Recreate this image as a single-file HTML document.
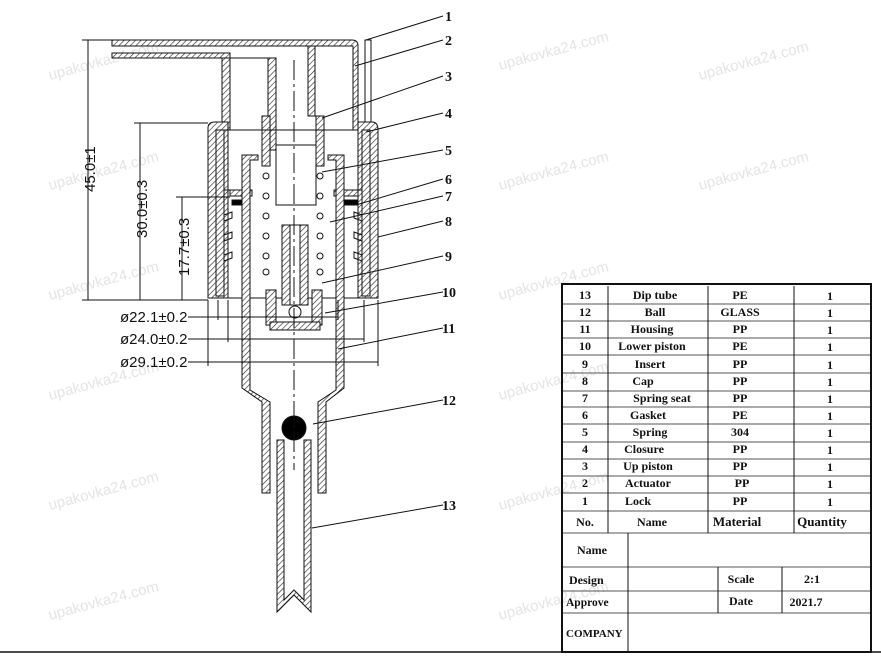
<!DOCTYPE html>
<html><head><meta charset="utf-8"><style>
html,body{margin:0;padding:0;background:#fff;}
svg{display:block;}
.tb{font-family:"Liberation Serif",serif;font-weight:bold;font-size:12px;}
</style></head><body>
<svg width="881" height="662" viewBox="0 0 881 662" xmlns="http://www.w3.org/2000/svg">
<defs>
<pattern id="h" width="4" height="4" patternUnits="userSpaceOnUse" patternTransform="rotate(45)">
<rect width="4" height="4" fill="#fff"/><line x1="0" y1="0" x2="0" y2="4" stroke="#222" stroke-width="1.2"/></pattern>
</defs>
<g fill="#e4e4e4" font-family="Liberation Sans,sans-serif" font-size="15">
<text transform="translate(50,80) rotate(-15)">upakovka24.com</text>
<text transform="translate(500,70) rotate(-15)">upakovka24.com</text>
<text transform="translate(700,80) rotate(-15)">upakovka24.com</text>
<text transform="translate(50,190) rotate(-15)">upakovka24.com</text>
<text transform="translate(500,190) rotate(-15)">upakovka24.com</text>
<text transform="translate(700,190) rotate(-15)">upakovka24.com</text>
<text transform="translate(50,300) rotate(-15)">upakovka24.com</text>
<text transform="translate(500,300) rotate(-15)">upakovka24.com</text>
<text transform="translate(50,400) rotate(-15)">upakovka24.com</text>
<text transform="translate(500,400) rotate(-15)">upakovka24.com</text>
<text transform="translate(50,510) rotate(-15)">upakovka24.com</text>
<text transform="translate(500,510) rotate(-15)">upakovka24.com</text>
<text transform="translate(50,620) rotate(-15)">upakovka24.com</text>
<text transform="translate(500,620) rotate(-15)">upakovka24.com</text>
</g>
<g stroke="#111" stroke-width="1" fill="none">
<path d="M112 40 H352 Q358 40 358 46 V130 H353 V46 H112 Z" fill="url(#h)"/>
<rect x="112" y="53" width="118" height="5" fill="url(#h)"/>
<rect x="222" y="58" width="8" height="72" fill="url(#h)"/>
<rect x="268" y="58" width="8" height="92" fill="url(#h)"/>
<line x1="230" y1="58" x2="268" y2="58"/>
<rect x="308" y="46" width="7" height="70" fill="url(#h)"/>
<rect x="365" y="40" width="6" height="82"/>
<rect x="262" y="116" width="8" height="50" fill="url(#h)"/>
<rect x="316" y="116" width="8" height="50" fill="url(#h)"/>
<rect x="276" y="145" width="40" height="60"/>
<path d="M208 128 Q208 122 215 122 H228 V298 H208 Z" fill="url(#h)"/>
<path d="M358 122 H372 Q378 122 378 130 V298 H358 Z" fill="url(#h)"/>
<rect x="216" y="130" width="8" height="166" fill="url(#h)"/>
<rect x="362" y="130" width="8" height="166" fill="url(#h)"/>
<line x1="208" y1="298" x2="378" y2="298"/>
<path d="M224 130 H358 M224 190 H250 M338 190 H362"/>
<rect x="230" y="190" width="22" height="6" fill="url(#h)"/>
<rect x="334" y="190" width="24" height="6" fill="url(#h)"/>
<rect x="232" y="200" width="18" height="5" fill="#000"/>
<rect x="338" y="200" width="20" height="5" fill="#000"/>
<path d="M224 215 l8 -3 v6 l-8 3 M224 235 l8 -3 v6 l-8 3 M224 255 l8 -3 v6 l-8 3 M362 215 l-8 -3 v6 l8 3 M362 235 l-8 -3 v6 l8 3 M362 255 l-8 -3 v6 l8 3"/>
<path d="M242 155 H258 V160 H250 V390 L270 402 V493 H262 V402 L242 388 Z" fill="url(#h)"/>
<path d="M344 155 H328 V160 H336 V390 L318 402 V493 H326 V402 L344 388 Z" fill="url(#h)"/>
<g fill="#fff">
<circle cx="266" cy="176" r="3"/><circle cx="266" cy="196" r="3"/><circle cx="266" cy="216" r="3"/><circle cx="266" cy="236" r="3"/><circle cx="266" cy="256" r="3"/><circle cx="266" cy="272" r="3"/>
<circle cx="320" cy="176" r="3"/><circle cx="320" cy="196" r="3"/><circle cx="320" cy="216" r="3"/><circle cx="320" cy="236" r="3"/><circle cx="320" cy="256" r="3"/><circle cx="320" cy="272" r="3"/>
</g>
<rect x="282" y="225" width="26" height="80" fill="url(#h)"/>
<rect x="290" y="225" width="10" height="80" fill="#fff"/>
<rect x="266" y="290" width="10" height="35" fill="url(#h)"/>
<rect x="312" y="290" width="10" height="35" fill="url(#h)"/>
<rect x="270" y="322" width="50" height="8" fill="url(#h)"/>
<circle cx="295" cy="312" r="6" fill="#fff"/>
<circle cx="294" cy="428" r="12" fill="#000"/>
<path d="M277 440 H284 V600 L294 590 L304 600 V440 H311 V612 L294 595 L277 612 Z" fill="url(#h)"/>
<line x1="294" y1="60" x2="294" y2="470" stroke-dasharray="20 4 3 4"/>
<path d="M82 40 H112 M88 40 V300 M82 300 H208 M134 123 H208 M140 123 V300 M176 197 H230 M182 197 V300"/>
<path d="M218 300 V320 M338 300 V320 M228 300 V342 M364 300 V342 M208 300 V366 M378 300 V366"/>
<path d="M188 317 H338 M188 339 H364 M188 362 H378"/>
</g>
<g font-family="Liberation Sans,sans-serif" font-size="15" fill="#111">
<text transform="translate(95,192) rotate(-90)">45.0±1</text>
<text transform="translate(147,238) rotate(-90)">30.0±0.3</text>
<text transform="translate(189,276) rotate(-90)">17.7±0.3</text>
<text x="120" y="322">ø22.1±0.2</text>
<text x="120" y="344">ø24.0±0.2</text>
<text x="120" y="367">ø29.1±0.2</text>
</g>
<g stroke="#111" stroke-width="1">
<line x1="443" y1="16" x2="366" y2="40"/>
<line x1="443" y1="40" x2="355" y2="66"/>
<line x1="443" y1="76" x2="322" y2="118"/>
<line x1="443" y1="113" x2="366" y2="132"/>
<line x1="443" y1="150" x2="322" y2="172"/>
<line x1="443" y1="179" x2="356" y2="205"/>
<line x1="443" y1="196" x2="330" y2="222"/>
<line x1="443" y1="221" x2="378" y2="237"/>
<line x1="443" y1="256" x2="322" y2="283"/>
<line x1="443" y1="292" x2="325" y2="313"/>
<line x1="443" y1="328" x2="338" y2="349"/>
<line x1="443" y1="400" x2="313" y2="424"/>
<line x1="443" y1="505" x2="312" y2="528"/>
</g>
<g font-family="Liberation Serif,serif" font-weight="bold" font-size="14" fill="#111">
<text x="445" y="21">1</text><text x="445" y="45">2</text><text x="445" y="81">3</text>
<text x="445" y="118">4</text><text x="445" y="155">5</text><text x="445" y="184">6</text>
<text x="445" y="201">7</text><text x="445" y="226">8</text><text x="445" y="261">9</text>
<text x="442" y="297">10</text><text x="442" y="333">11</text><text x="442" y="405">12</text>
<text x="442" y="510">13</text>
</g>
<line x1="0" y1="652" x2="881" y2="652" stroke="#111" stroke-width="1.5"/>
<g stroke="#111" stroke-width="1" fill="none">
<rect x="562" y="284" width="309" height="368" stroke-width="2"/>
<path d="M563 304 H870 M563 321 H870 M563 338 H870 M563 355 H870 M563 373 H870 M563 391 H870 M563 407 H870 M563 424 H870 M563 442 H870 M563 459 H870 M563 476 H870 M563 493 H870 M563 511 H870 M563 533 H870 M563 567 H870 M563 591 H870 M563 613 H870" stroke="#555"/>
<path d="M608 286 V533 M708 286 V533 M794 286 V533 M628 533 V652 M718 567 V613 M782 567 V613"/>
</g>
<g class="tb" fill="#111" text-anchor="middle">
<text x="585" y="299">13</text><text x="655" y="299">Dip tube</text><text x="740" y="299">PE</text><text x="830" y="300">1</text>
<text x="585" y="316">12</text><text x="655" y="316">Ball</text><text x="740" y="316">GLASS</text><text x="830" y="317">1</text>
<text x="585" y="333">11</text><text x="652" y="333">Housing</text><text x="740" y="333">PP</text><text x="830" y="334">1</text>
<text x="585" y="350">10</text><text x="652" y="350">Lower piston</text><text x="740" y="350">PE</text><text x="830" y="351">1</text>
<text x="585" y="368">9</text><text x="650" y="368">Insert</text><text x="740" y="368">PP</text><text x="830" y="369">1</text>
<text x="585" y="385">8</text><text x="643" y="385">Cap</text><text x="740" y="385">PP</text><text x="830" y="386">1</text>
<text x="585" y="402">7</text><text x="662" y="402">Spring seat</text><text x="740" y="402">PP</text><text x="830" y="403">1</text>
<text x="585" y="419">6</text><text x="648" y="419">Gasket</text><text x="740" y="419">PE</text><text x="830" y="420">1</text>
<text x="585" y="436">5</text><text x="650" y="436">Spring</text><text x="740" y="436">304</text><text x="830" y="437">1</text>
<text x="585" y="453">4</text><text x="644" y="453">Closure</text><text x="740" y="453">PP</text><text x="830" y="454">1</text>
<text x="585" y="470">3</text><text x="648" y="470">Up piston</text><text x="740" y="470">PP</text><text x="830" y="471">1</text>
<text x="585" y="487">2</text><text x="648" y="487">Actuator</text><text x="742" y="487">PP</text><text x="830" y="488">1</text>
<text x="585" y="505">1</text><text x="638" y="505">Lock</text><text x="740" y="505">PP</text><text x="830" y="506">1</text>
<text x="585" y="526">No.</text><text x="652" y="526">Name</text><text x="737" y="526" font-size="13">Material</text><text x="822" y="526" font-size="13">Quantity</text>
<text x="592" y="554">Name</text>
<text x="741" y="583">Scale</text><text x="812" y="583">2:1</text>
<text x="741" y="605">Date</text><text x="806" y="606">2021.7</text>
</g>
<g class="tb" fill="#111">
<text x="569" y="584">Design</text>
<text x="566" y="606" font-size="11.5">Approve</text>
<text x="566" y="637" font-size="11">COMPANY</text>
</g>
</svg>
</body></html>
